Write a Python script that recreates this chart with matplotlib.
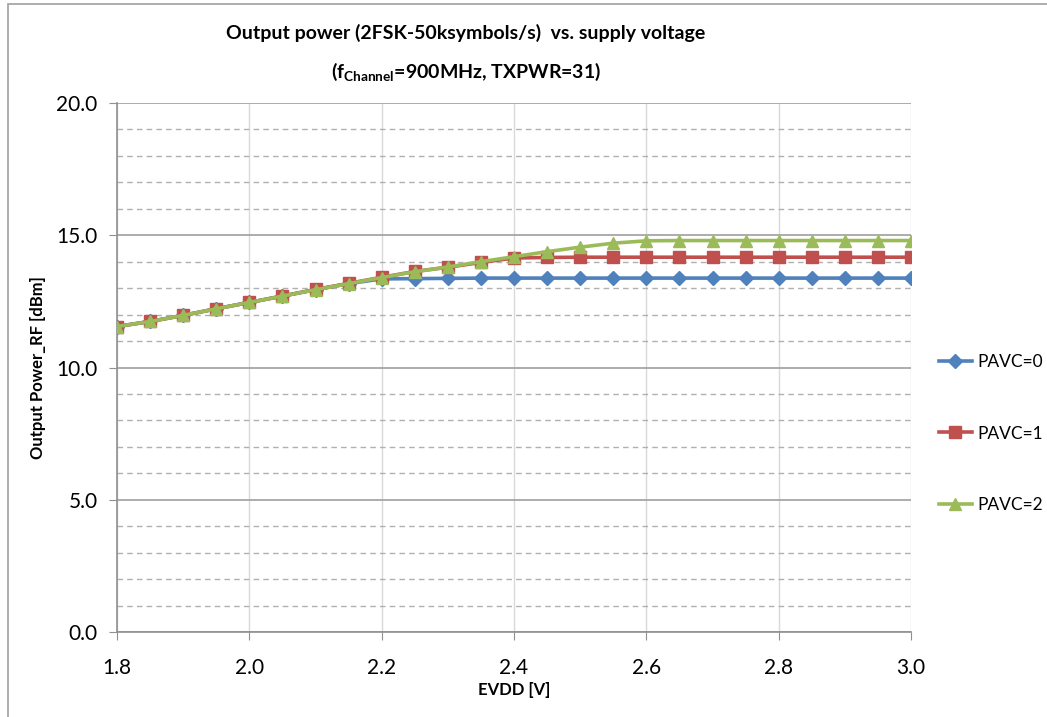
import matplotlib
matplotlib.use("Agg")
import matplotlib.pyplot as plt
from matplotlib.patches import Rectangle
from matplotlib.ticker import MultipleLocator, FormatStrFormatter

plt.rcParams['font.family'] = ['Lato', 'DejaVu Sans']
plt.rcParams['mathtext.fontset'] = 'custom'
plt.rcParams['mathtext.bf'] = 'Lato:bold'
plt.rcParams['mathtext.rm'] = 'Lato'

# supply voltage [V]
evdd = [1.80, 1.85, 1.90, 1.95, 2.00, 2.05, 2.10, 2.15, 2.20, 2.25, 2.30, 2.35, 2.40,
        2.45, 2.50, 2.55, 2.60, 2.65, 2.70, 2.75, 2.80, 2.85, 2.90, 2.95, 3.00]

# output power [dBm]
pavc0 = [11.55, 11.74, 11.97, 12.22, 12.46, 12.70, 12.94, 13.17, 13.35, 13.36, 13.37, 13.38, 13.38,
         13.38, 13.38, 13.38, 13.38, 13.38, 13.38, 13.38, 13.38, 13.38, 13.38, 13.38, 13.38]
pavc1 = [11.55, 11.74, 11.97, 12.22, 12.46, 12.70, 12.95, 13.18, 13.41, 13.63, 13.79, 13.97, 14.14,
         14.16, 14.17, 14.17, 14.17, 14.17, 14.17, 14.17, 14.17, 14.17, 14.17, 14.17, 14.17]
pavc2 = [11.55, 11.74, 11.97, 12.22, 12.46, 12.70, 12.94, 13.17, 13.40, 13.62, 13.80, 14.00, 14.19,
         14.38, 14.55, 14.70, 14.79, 14.80, 14.80, 14.80, 14.80, 14.80, 14.80, 14.80, 14.80]

labels = ['PAVC=0', 'PAVC=1', 'PAVC=2']

W, H = 1047, 717
fig = plt.figure(figsize=(W / 100, H / 100), dpi=100)

# outer chart border
fig.patches.append(Rectangle((8 / W, -0.1), 1.2, (H - 4) / H + 0.1, transform=fig.transFigure,
                             fill=False, edgecolor='#a0a0a0', linewidth=1.2))

left, right, top, bottom = 117, 911, 103, 632
ax = fig.add_axes([left / W, 1 - bottom / H, (right - left) / W, (bottom - top) / H])

ax.plot(evdd, pavc0, color='#4F81BD', lw=2.6, marker='D', ms=7, label=labels[0], zorder=3)
ax.plot(evdd, pavc1, color='#C0504D', lw=2.6, marker='s', ms=8, label=labels[1], zorder=4)
ax.plot(evdd, pavc2, color='#9BBB59', lw=2.6, marker='^', ms=9, label=labels[2], zorder=5)

ax.set_xlim(1.8, 3.0)
ax.set_ylim(0, 20)
ax.xaxis.set_major_locator(MultipleLocator(0.2))
ax.yaxis.set_major_locator(MultipleLocator(5))
ax.yaxis.set_minor_locator(MultipleLocator(1))
ax.xaxis.set_major_formatter(FormatStrFormatter('%.1f'))
ax.yaxis.set_major_formatter(FormatStrFormatter('%.1f'))

ax.grid(True, axis='x', which='major', color='#d9d9d9', lw=1.0)
ax.grid(True, axis='y', which='major', color='#a6a6a6', lw=1.3)
ax.grid(True, axis='y', which='minor', color='#b0b0b0', lw=1.0, linestyle=(0, (4, 3)))
ax.set_axisbelow(True)

for s in ['top', 'right']:
    ax.spines[s].set_visible(False)
for s in ['left', 'bottom']:
    ax.spines[s].set_color('#909090')
    ax.spines[s].set_linewidth(1.2)

ax.tick_params(axis='both', which='major', direction='out', length=6, color='#909090',
               labelsize=15, pad=8)
ax.tick_params(axis='y', which='minor', length=0)
ax.tick_params(axis='x', pad=13)

ax.set_xlabel('EVDD [V]', fontsize=12, fontweight='bold')
ax.xaxis.set_label_coords(0.5, -(690 - bottom) / (bottom - top), transform=ax.transAxes)
ax.xaxis.label.set_va('center')
ax.set_ylabel('Output Power_RF [dBm]', fontsize=12, fontweight='bold')
ax.yaxis.set_label_coords(-(left - 38) / (right - left), 0.5)
ax.yaxis.label.set_va('center')

fig.text(466 / W, 1 - 33 / H, 'Output power (2FSK-50ksymbols/s)  vs. supply voltage',
         ha='center', va='center', fontsize=14, fontweight='bold')
fig.text(466 / W, 1 - 72 / H, r'(f$_{\mathbf{Channel}}$=900MHz, TXPWR=31)',
         ha='center', va='center', fontsize=14, fontweight='bold')

fig.legend(loc='upper left', bbox_to_anchor=(939 / W, 1 - 354 / H), frameon=False,
           fontsize=12.5, labelspacing=3.2, handlelength=1.9, handletextpad=0.3,
           borderaxespad=0, borderpad=0)

fig.savefig('out.png', dpi=100)
